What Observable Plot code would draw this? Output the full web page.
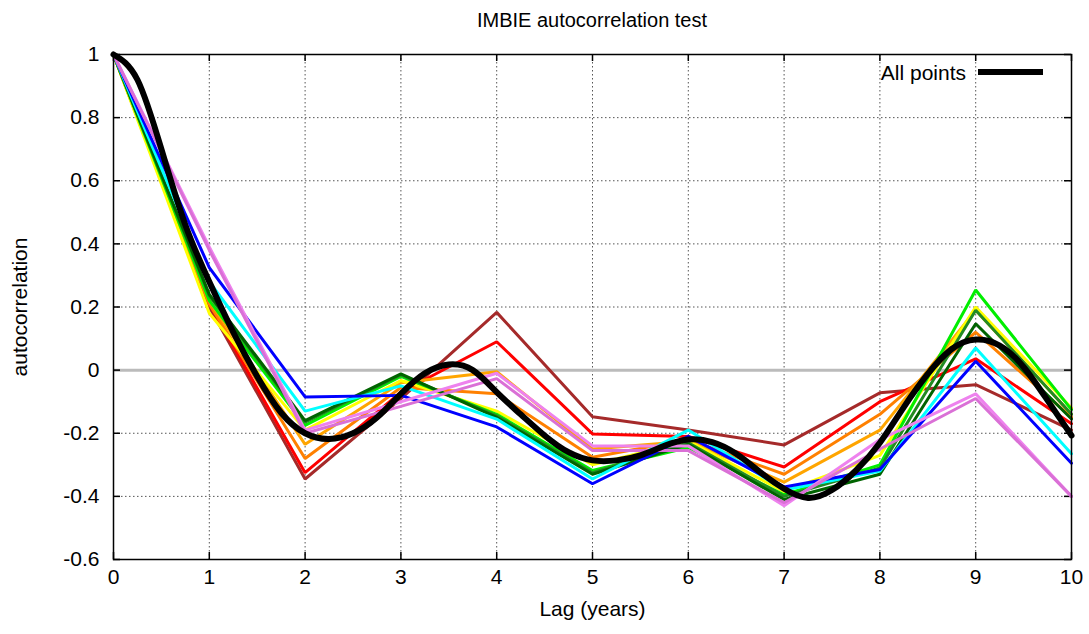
<!DOCTYPE html>
<html><head><meta charset="utf-8">
<script src="https://cdn.jsdelivr.net/npm/d3@7"></script>
<script src="https://cdn.jsdelivr.net/npm/@observablehq/plot@0.6"></script>
<style>
body{margin:0;background:#fff;font-family:"Liberation Sans",Arial,sans-serif;}
#wrap{position:relative;width:1089px;height:634px;overflow:hidden;}
#title{height:36px;line-height:40px;margin-left:113px;width:958px;text-align:center;font-size:20px;color:#000;}
#legend{position:absolute;left:800px;top:60px;width:166px;text-align:right;font-size:21px;line-height:26px;color:#000;}
#legline{position:absolute;left:978px;top:69px;width:65px;height:6px;background:#000;}
</style></head><body>
<div id="wrap">
<div id="title">IMBIE autocorrelation test</div>
<div id="chart"></div>
<div id="legend">All points</div>
<div id="legline"></div>
</div>
<script>
const lags = [0,1,2,3,4,5,6,7,8,9,10];
const xTicks = [0,1,2,3,4,5,6,7,8,9,10];
const yTicks = [-0.6,-0.4,-0.2,0,0.2,0.4,0.6,0.8,1];

const brown      = [1, 0.20, -0.345, -0.09, 0.183, -0.148, -0.19, -0.237, -0.072, -0.046, -0.19];
const red        = [1, 0.21, -0.325, -0.07, 0.09, -0.202, -0.21, -0.307, -0.10, 0.036, -0.17];
const darkorange = [1, 0.21, -0.28, -0.055, -0.075, -0.276, -0.22, -0.33, -0.14, 0.12, -0.15];
const orange     = [1, 0.22, -0.235, -0.04, -0.005, -0.25, -0.225, -0.355, -0.19, 0.19, -0.14];
const yellow     = [1, 0.18, -0.19, -0.033, -0.13, -0.30, -0.225, -0.385, -0.27, 0.2, -0.12];
const lime       = [1, 0.22, -0.175, -0.02, -0.14, -0.318, -0.245, -0.395, -0.30, 0.254, -0.125];
const forest     = [1, 0.235, -0.165, -0.015, -0.145, -0.325, -0.23, -0.40, -0.31, 0.19, -0.14];
const darkgreen  = [1, 0.24, -0.16, -0.012, -0.15, -0.33, -0.235, -0.41, -0.33, 0.147, -0.155];
const cyan       = [1, 0.28, -0.13, -0.05, -0.155, -0.345, -0.19, -0.38, -0.32, 0.07, -0.265];
const blue       = [1, 0.325, -0.085, -0.08, -0.18, -0.36, -0.21, -0.37, -0.315, 0.028, -0.295];
const violet     = [1, 0.39, -0.19, -0.1, -0.01, -0.24, -0.24, -0.43, -0.22, -0.075, -0.4];
const orchid     = [1, 0.38, -0.2, -0.115, -0.027, -0.255, -0.255, -0.42, -0.25, -0.09, -0.4];

const allLags = [0,0.25,0.5,0.75,1,1.25,1.5,1.75,2,2.25,2.5,2.75,3,3.25,3.5,3.75,4,4.25,4.5,4.75,5,5.25,5.5,5.75,6,6.25,6.5,6.75,7,7.25,7.5,7.75,8,8.25,8.5,8.75,9,9.25,9.5,9.75,10];
const allPoints = [1.0,0.92,0.70,0.46,0.28,0.12,-0.02,-0.135,-0.2,-0.218,-0.2,-0.15,-0.075,-0.01,0.018,0.0,-0.07,-0.14,-0.207,-0.26,-0.286,-0.286,-0.27,-0.24,-0.22,-0.228,-0.265,-0.323,-0.376,-0.405,-0.38,-0.318,-0.23,-0.117,-0.012,0.067,0.097,0.078,0.01,-0.096,-0.207];

const series = [
  ["#a52a2a", brown], ["#ff0000", red], ["#ff8000", darkorange], ["#ffa500", orange],
  ["#ffff00", yellow], ["#00ee00", lime], ["#228b22", forest], ["#006400", darkgreen],
  ["#00ffff", cyan], ["#0000ff", blue], ["#ee82ee", violet], ["#da70d6", orchid]
];

const fmt = d => (d === 0 ? "0" : String(+d.toFixed(1)));
const plotW = 1089 - 113 - 18, plotH = 598 - 18 - 75;

const lineMarks = series.map(([c, arr]) =>
  Plot.line(lags.map((x, i) => ({x, y: arr[i]})), {x: "x", y: "y", stroke: c, strokeWidth: 3, strokeLinejoin: "miter"})
);

const chart = Plot.plot({
  width: 1089, height: 598,
  marginTop: 18, marginBottom: 75, marginLeft: 113, marginRight: 18,
  style: {fontSize: "21px", fontFamily: "'Liberation Sans', Arial, sans-serif", color: "#000", background: "#fff"},
  x: {domain: [0, 10]},
  y: {domain: [-0.6, 1]},
  marks: [
    Plot.ruleX(xTicks, {stroke: "#555", strokeWidth: 1, strokeDasharray: "1.5,2.5"}),
    Plot.ruleY(yTicks, {stroke: "#555", strokeWidth: 1, strokeDasharray: "1.5,2.5"}),
    Plot.ruleY([0], {stroke: "#bbb", strokeWidth: 3}),
    Plot.tickY(yTicks, {stroke: "#000", strokeWidth: 1.5, insetRight: plotW - 7}),
    Plot.tickY(yTicks, {stroke: "#000", strokeWidth: 1.5, insetLeft: plotW - 7}),
    Plot.tickX(xTicks, {stroke: "#000", strokeWidth: 1.5, insetTop: plotH - 7}),
    Plot.tickX(xTicks, {stroke: "#000", strokeWidth: 1.5, insetBottom: plotH - 7}),
    ...lineMarks,
    Plot.line(allLags.map((x, i) => ({x, y: allPoints[i]})), {x: "x", y: "y", stroke: "#000", strokeWidth: 6, curve: "natural"}),
    Plot.frame({stroke: "#000", strokeWidth: 1.5}),
    Plot.axisX({ticks: xTicks, tickSize: 0, tickPadding: 10, label: null, tickFormat: d => String(d)}),
    Plot.axisY({ticks: yTicks, tickSize: 0, tickPadding: 14, label: null, tickFormat: fmt}),
    Plot.text(["Lag (years)"], {frameAnchor: "bottom", dy: 50, lineAnchor: "middle"}),
    Plot.text(["autocorrelation"], {frameAnchor: "left", dx: -93, rotate: -90, textAnchor: "middle", lineAnchor: "middle"})
  ]
});
document.getElementById("chart").appendChild(chart);
</script>
</body></html>
